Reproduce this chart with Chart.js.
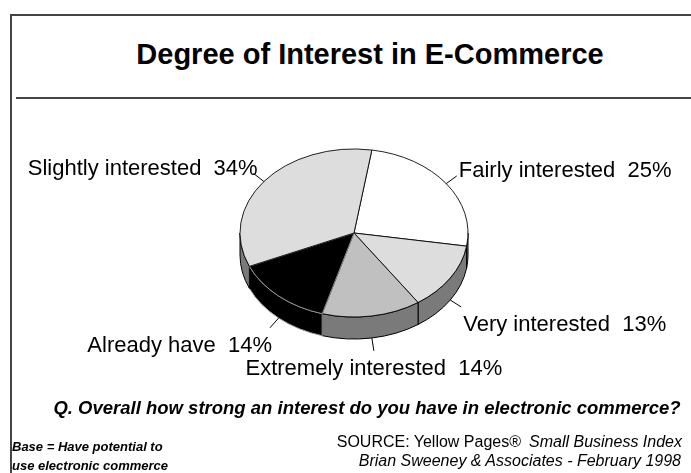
<!DOCTYPE html>
<html>
<head>
  <title>Degree of Interest in E-Commerce</title>
  <script src="https://cdn.jsdelivr.net/npm/chart.js@4/dist/chart.umd.min.js"></script>
  <style>
    body {
      margin: 0;
      padding: 0;
      overflow: hidden;
      background: #fff;
      font-family: "Liberation Sans", Arial, sans-serif;
      color: #000;
    }
    .slide {
      position: relative;
      width: 691px;
      height: 473px;
    }
    .frame {
      position: absolute;
      left: 10px;
      top: 14px;
      right: 0;
      bottom: 0;
      border-left: 2px solid #444;
      border-top: 2px solid #444;
    }
    .rule {
      position: absolute;
      left: 16px;
      right: 0;
      top: 97px;
      border-top: 2px solid #444;
    }
    .title {
      position: absolute;
      left: 40px;
      width: 660px;
      top: 38px;
      text-align: center;
      font-size: 29px;
      font-weight: bold;
      white-space: nowrap;
    }
    .question {
      position: absolute;
      left: 40px;
      width: 654px;
      top: 397px;
      text-align: center;
      font-size: 18.5px;
      font-weight: bold;
      font-style: italic;
      white-space: nowrap;
    }
    .base {
      position: absolute;
      left: 12px;
      top: 437px;
      font-size: 13px;
      font-weight: bold;
      font-style: italic;
      line-height: 19px;
    }
    .source {
      position: absolute;
      right: 9px;
      top: 432px;
      text-align: right;
      font-size: 16px;
      line-height: 19px;
      white-space: nowrap;
    }
    .source i { margin-left: 8px; }
    .source .credit {
      font-style: italic;
      margin-right: 1px;
    }
    canvas { position: absolute; left: 0; top: 0; }
  </style>
</head>
<body>
  <div class="slide">
    <div class="frame"></div>
    <div class="rule"></div>
    <div class="title">Degree of Interest in E-Commerce</div>
    <canvas id="interestChart" width="691" height="473"></canvas>
    <div class="question">Q. Overall how strong an interest do you have in electronic commerce?</div>
    <div class="base">Base = Have potential to<br>use electronic commerce</div>
    <div class="source">SOURCE: Yellow Pages®<i>Small Business Index</i><br><span class="credit">Brian Sweeney &amp; Associates - February 1998</span></div>
  </div>

  <script>
    // Survey answers, clockwise from the top of the pie
    const categories = ['Fairly interested', 'Very interested', 'Extremely interested', 'Already have', 'Slightly interested'];
    const shares = [25, 13, 14, 14, 34];

    // Slice shading: top face and the darker wall underneath
    const topColors = ['#ffffff', '#dddddd', '#c0c0c0', '#000000', '#dddddd'];
    const edgeColors = ['#000000', '#000000', '#000000', '#9a9a9a', '#000000'];
    const sideColors = ['#808080', '#7a7a7a', '#7a7a7a', '#000000', '#7a7a7a'];

    const tilt = 0.737;   // vertical squash of the pie top
    const depth = 22;     // height of the pie wall in px

    // Fakes a tilted 3D pie: draws the front walls, then squashes the slices
    const pie3d = {
      id: 'pie3d',
      beforeDatasetsDraw(chart) {
        const ctx = chart.ctx;
        const arcs = chart.getDatasetMeta(0).data;
        const {x, y} = arcs[0];
        arcs.forEach((arc, i) => {
          const {startAngle, endAngle, outerRadius: r} = arc.getProps(['startAngle', 'endAngle', 'outerRadius'], true);
          for (const k of [-2 * Math.PI, 0, 2 * Math.PI]) {
            const a1 = Math.max(startAngle, k);
            const a2 = Math.min(endAngle, k + Math.PI);
            if (a2 <= a1) continue;
            ctx.beginPath();
            ctx.ellipse(x, y, r, r * tilt, 0, a1, a2);
            ctx.ellipse(x, y + depth, r, r * tilt, 0, a2, a1, true);
            ctx.closePath();
            ctx.fillStyle = sideColors[i];
            ctx.fill();
            ctx.strokeStyle = i === 3 ? '#9a9a9a' : '#000';
            ctx.lineWidth = 1;
            ctx.stroke();
          }
        });
        ctx.save();
        ctx.translate(x, y);
        ctx.scale(1, tilt);
        ctx.translate(-x, -y);
      },
      afterDatasetsDraw(chart) {
        const ctx = chart.ctx;
        ctx.restore();

        // leader lines and slice labels
        const arcs = chart.getDatasetMeta(0).data;
        const {x, y} = arcs[0];
        ctx.save();
        ctx.font = '22px "Liberation Sans", Arial, sans-serif';
        ctx.fillStyle = '#000';
        ctx.strokeStyle = '#000';
        ctx.lineWidth = 1;
        arcs.forEach((arc, i) => {
          const {startAngle, endAngle, outerRadius: r} = arc.getProps(['startAngle', 'endAngle', 'outerRadius'], true);
          const mid = (startAngle + endAngle) / 2;
          const c = Math.cos(mid), s = Math.sin(mid);
          const sx = x + r * c;
          const sy = y + r * tilt * s + (s > 0 ? depth : 0);
          const ex = sx + 13 * c;
          const ey = sy + 13 * s;
          ctx.beginPath();
          ctx.moveTo(sx, sy);
          ctx.lineTo(ex, ey);
          ctx.stroke();

          const text = categories[i] + '  ' + shares[i] + '%';
          let tx = ex;
          if (Math.abs(c) < 0.4) {
            ctx.textAlign = 'center';
          } else if (c > 0) {
            ctx.textAlign = 'left';
            tx = ex + 2;
          } else {
            ctx.textAlign = 'right';
            tx = ex + (s < 0 ? 4 : 2);
          }
          const ty = s < 0 ? ey + 1 : ey + 24;
          ctx.textBaseline = 'alphabetic';
          ctx.fillText(text, tx, ty);
        });
        ctx.restore();
      }
    };

    const ctx = document.getElementById('interestChart').getContext('2d');
    new Chart(ctx, {
      type: 'pie',
      data: {
        labels: categories,
        datasets: [{
          data: shares,
          backgroundColor: topColors,
          borderColor: edgeColors,
          borderWidth: 1
        }]
      },
      options: {
        responsive: false,
        animation: false,
        events: [],
        rotation: 9,
        radius: 114,
        layout: {
          padding: { left: 240, right: 223, top: 119, bottom: 126 }
        },
        plugins: {
          legend: { display: false },
          tooltip: { enabled: false }
        }
      },
      plugins: [pie3d]
    });
  </script>
</body>
</html>
